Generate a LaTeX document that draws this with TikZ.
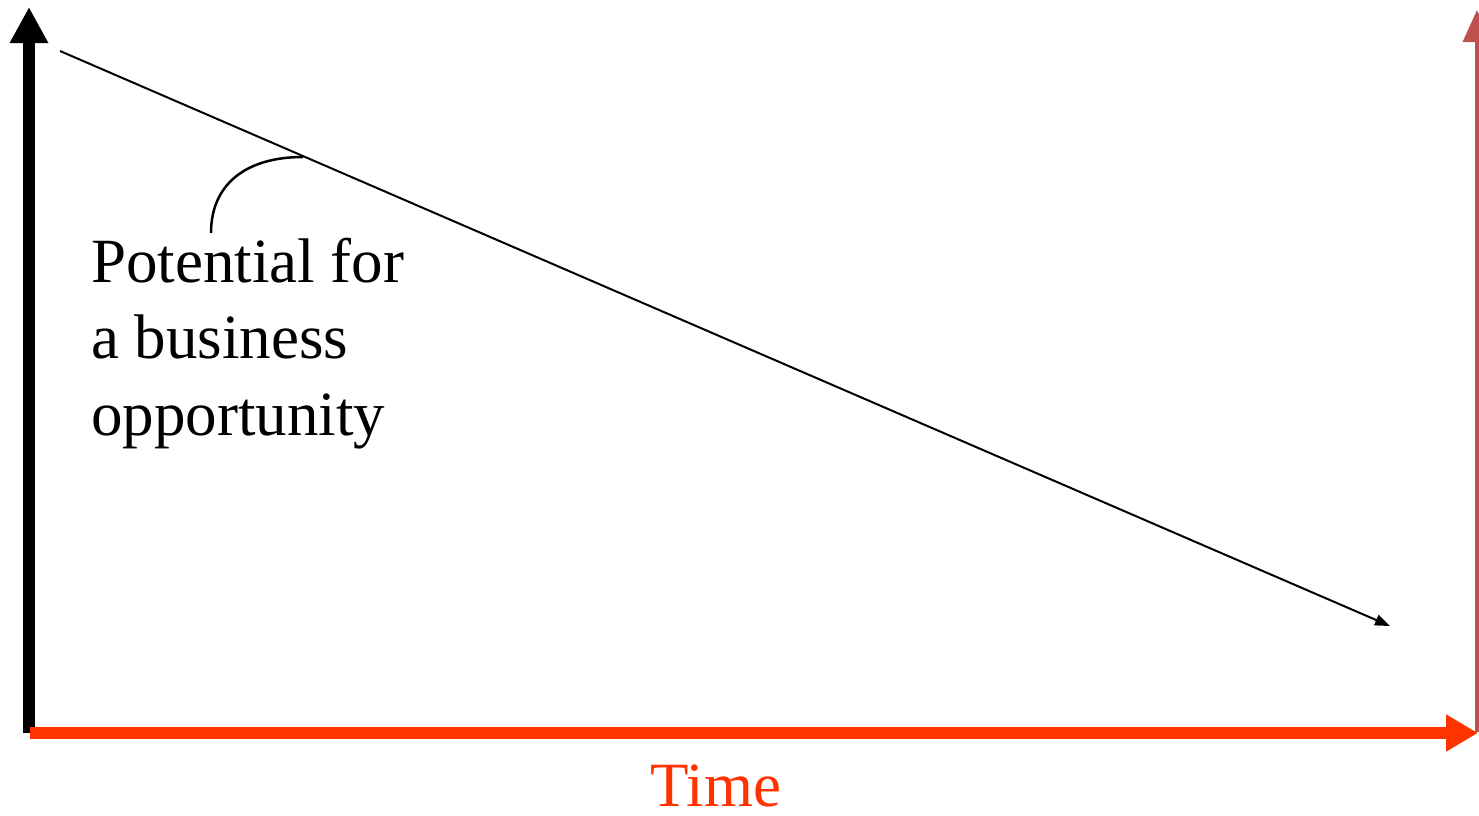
\documentclass[tikz,border=0pt]{standalone}
\usepackage{fontspec}
\setmainfont{Liberation Serif}
\usetikzlibrary{arrows.meta}
\definecolor{axisred}{HTML}{FF3300}
\definecolor{softred}{HTML}{C0504D}
\tikzset{
  axis/.style={line width=12pt},
  label/.style={inner sep=0pt, anchor=base west, font=\fontsize{63}{76}\selectfont},
  trend/.style={line width=2pt, -{Triangle[length=15pt,width=11pt]}},
}
\begin{document}
\begin{tikzpicture}[x=1pt,y=-1pt]
  \fill[white] (0,0) rectangle (1479,815);
  \useasboundingbox (0,0) rectangle (1479,815);
  \clip (0,0) rectangle (1479,815);

  % axis end points
  \coordinate (origin) at (29,733);
  \coordinate (ytop) at (29,7);
  \coordinate (xstart) at (30,733);
  \coordinate (xend) at (1478,733);
  \coordinate (rbottom) at (1477,732);
  \coordinate (rtop) at (1477,10);

  % vertical axis (black)
  \draw[axis, black, -{Triangle[length=36pt,width=36pt]}] (origin) -- (ytop);
  % right-hand marker (soft red)
  \draw[softred, line width=3.5pt, -{Triangle[length=32pt,width=28pt]}] (rbottom) -- (rtop);
  % time axis (red)
  \draw[axis, axisred, -{Triangle[length=32pt,width=35pt]}] (xstart) -- (xend);

  % declining trend line
  \coordinate (tstart) at (60,51);
  \coordinate (tend) at (1390,626);
  \draw[trend] (tstart) -- (tend);

  % label text and its leader curve
  \node[label] (l1) at (91,282) {Potential for};
  \node[label] (l2) at (91,358) {a business};
  \node[label] (l3) at (91,435) {opportunity};
  \coordinate (leadA) at (211,233);
  \coordinate (leadB) at (303,157);
  \draw[line width=2.5pt] (leadA) .. controls (211,185) and (245,157) .. (leadB);

  % time label
  \node[inner sep=0pt, anchor=base, text=axisred, font=\fontsize{63}{76}\selectfont] (time) at (716,806) {Time};
\end{tikzpicture}
\end{document}
